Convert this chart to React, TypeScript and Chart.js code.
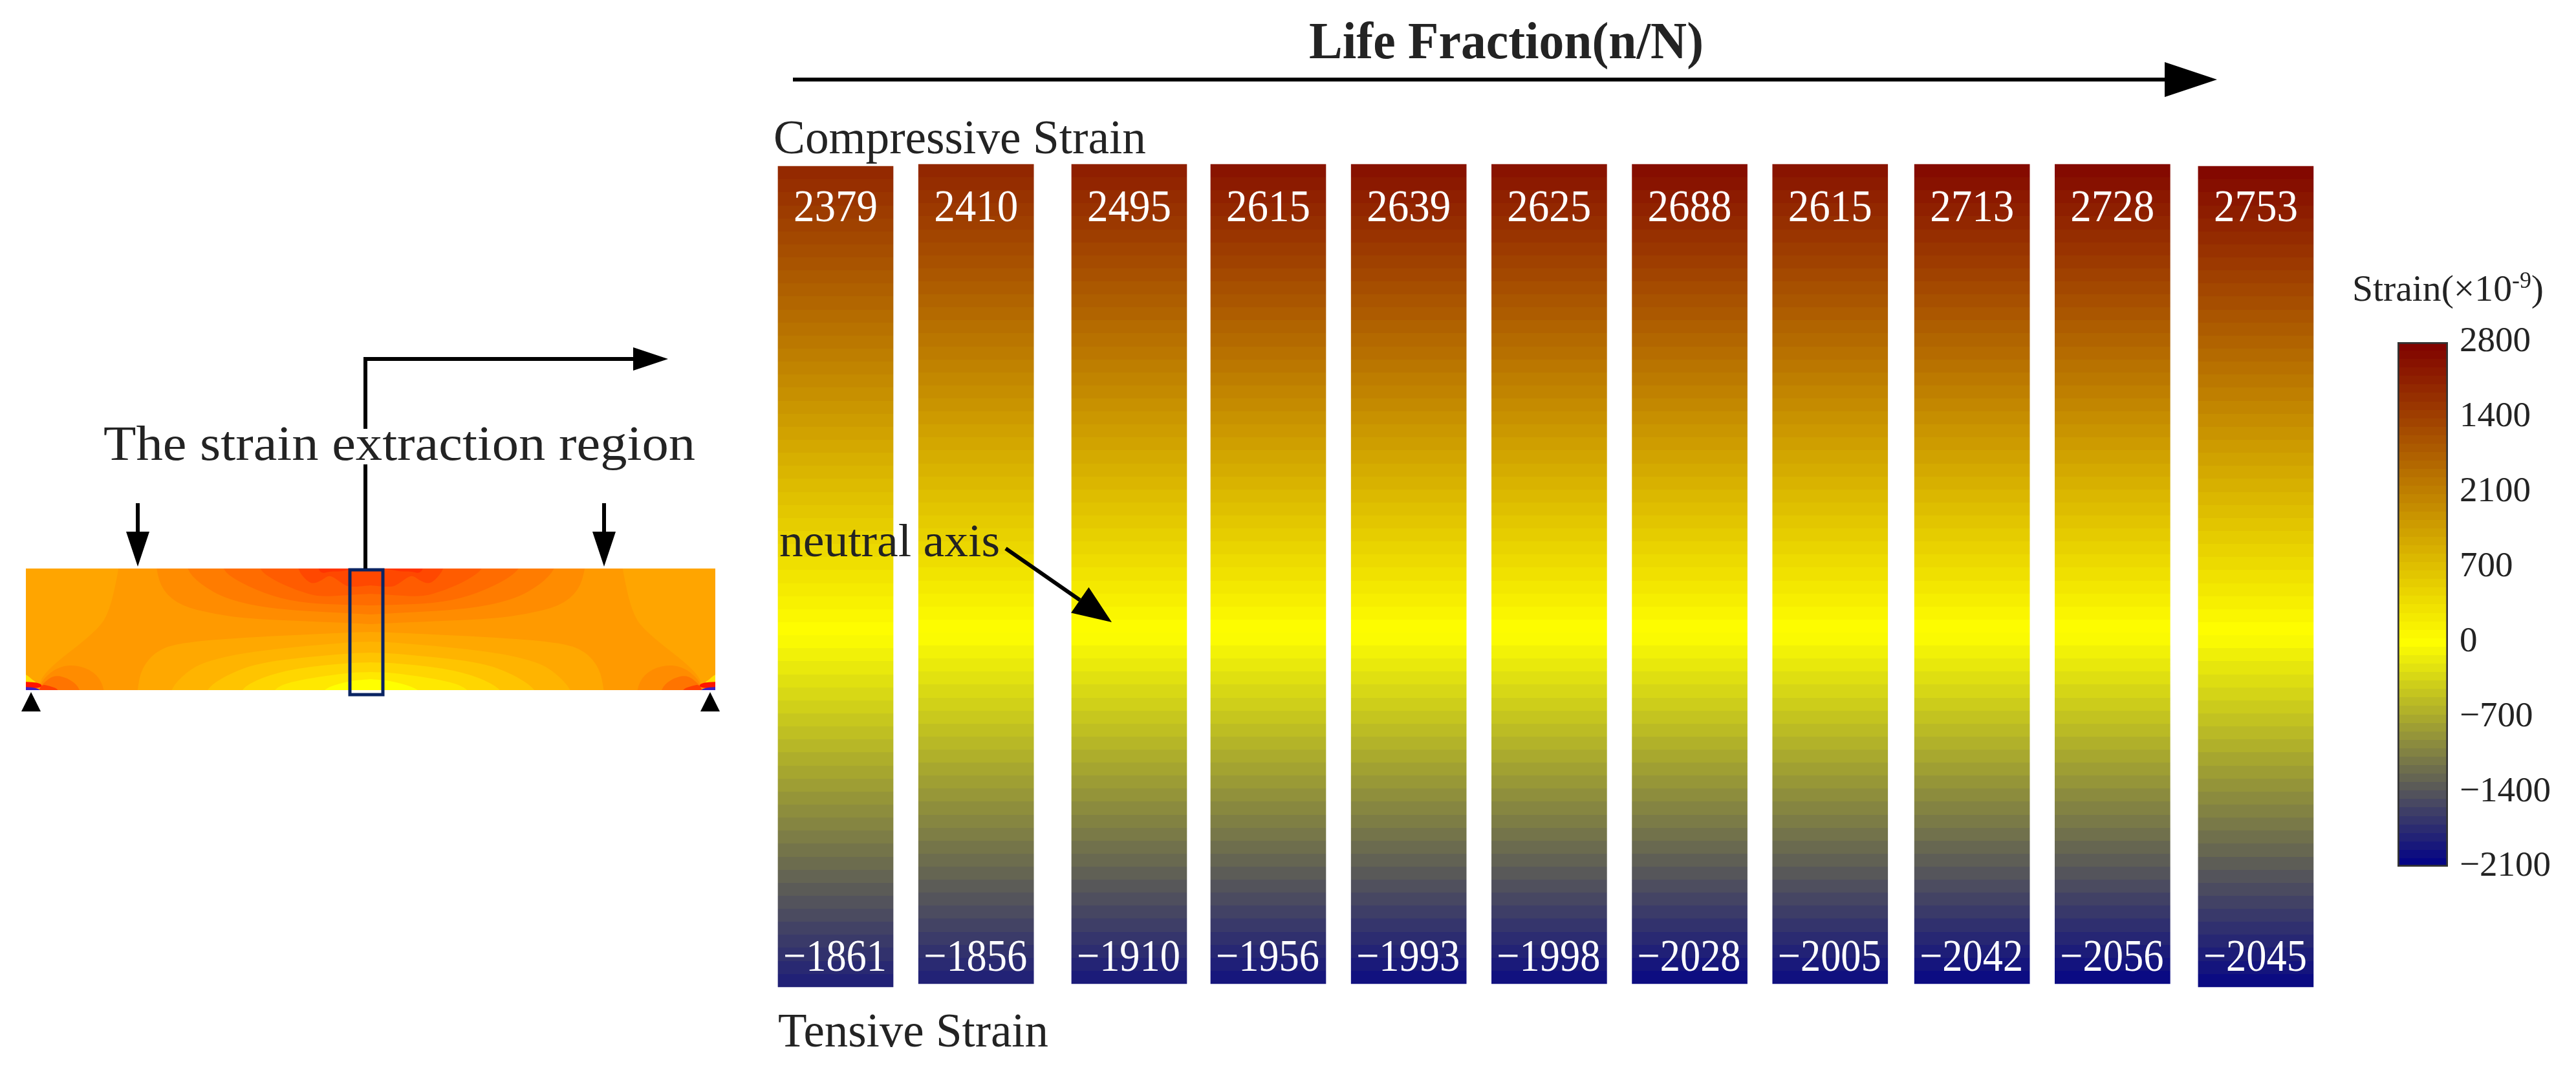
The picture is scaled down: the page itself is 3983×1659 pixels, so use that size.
import React, { useEffect, useRef } from "react";
import { Chart, registerables } from "chart.js";

Chart.register(...registerables);

// ---- data ----
const lifeFraction = [0, 0.1, 0.209, 0.308, 0.408, 0.508, 0.608, 0.708, 0.809, 0.909, 1.011];
const compressiveStrain = [2379, 2410, 2495, 2615, 2639, 2625, 2688, 2615, 2713, 2728, 2753];
const tensileStrain = [-1861, -1856, -1910, -1956, -1993, -1998, -2028, -2005, -2042, -2056, -2045];
const stripUpper = [2788, 2800, 2800, 2800, 2800, 2800, 2800, 2800, 2800, 2800, 2788];
const stripLower = [-2119, -2100, -2100, -2100, -2100, -2100, -2100, -2100, -2100, -2100, -2119];
const colorbarRange = [-2100, 2800];
const colorbarLabels = ["−2100", "−1400", "−700", "0", "700", "2100", "1400", "2800"];

const SERIF = '"Liberation Serif", serif';
const TEXT = "#232323";

type RGB = [number, number, number];
const HOT: RGB = [127, 0, 0];
const MID: RGB = [255, 255, 0];
const COLD: RGB = [0, 0, 136];

function mix(a: RGB, b: RGB, t: number): RGB {
  return [a[0] + (b[0] - a[0]) * t, a[1] + (b[1] - a[1]) * t, a[2] + (b[2] - a[2]) * t];
}
function strainColor(v: number): RGB {
  return v >= 0 ? mix(MID, HOT, Math.min(v / 2800, 1)) : mix(MID, COLD, Math.min(-v / 2100, 1));
}
const css = (c: RGB) => `rgb(${Math.round(c[0])},${Math.round(c[1])},${Math.round(c[2])})`;

// banded vertical gradient: hi colour at yTop, yellow at yZero, lo colour at yBottom
function bandedGradient(
  ctx: CanvasRenderingContext2D,
  yTop: number,
  yZero: number,
  yBottom: number,
  hi: number,
  lo: number,
  band: number
) {
  if (![yTop, yZero, yBottom].every(Number.isFinite)) return "#888888";
  const g = ctx.createLinearGradient(0, yTop, 0, yBottom);
  const h = yBottom - yTop;
  const n = Math.round(h / band);
  for (let i = 0; i < n; i++) {
    const a = i / n;
    const b = (i + 1) / n;
    const y = yTop + ((a + b) / 2) * h;
    const v = y < yZero ? (hi * (yZero - y)) / (yZero - yTop) : (lo * (y - yZero)) / (yBottom - yZero);
    const c = css(strainColor(v));
    g.addColorStop(a, c);
    g.addColorStop(b, c);
  }
  return g;
}

function fitText(
  ctx: CanvasRenderingContext2D,
  s: string,
  x: number,
  baseline: number,
  width: number,
  font: string,
  color = TEXT
) {
  ctx.save();
  ctx.font = font;
  ctx.fillStyle = color;
  ctx.textAlign = "left";
  ctx.textBaseline = "alphabetic";
  const w = ctx.measureText(s).width;
  ctx.translate(x, baseline);
  ctx.scale(width / w, 1);
  ctx.fillText(s, 0, 0);
  ctx.restore();
}

function segment(ctx: CanvasRenderingContext2D, x1: number, y1: number, x2: number, y2: number, w: number) {
  ctx.save();
  ctx.strokeStyle = "#000";
  ctx.lineWidth = w;
  ctx.beginPath();
  ctx.moveTo(x1, y1);
  ctx.lineTo(x2, y2);
  ctx.stroke();
  ctx.restore();
}

function arrow(
  ctx: CanvasRenderingContext2D,
  x1: number,
  y1: number,
  x2: number,
  y2: number,
  w: number,
  headLen: number,
  headHalf: number
) {
  const d = Math.hypot(x2 - x1, y2 - y1);
  const ux = (x2 - x1) / d;
  const uy = (y2 - y1) / d;
  const bx = x2 - ux * headLen;
  const by = y2 - uy * headLen;
  segment(ctx, x1, y1, bx, by, w);
  ctx.save();
  ctx.fillStyle = "#000";
  ctx.beginPath();
  ctx.moveTo(x2, y2);
  ctx.lineTo(bx - uy * headHalf, by + ux * headHalf);
  ctx.lineTo(bx + uy * headHalf, by - ux * headHalf);
  ctx.closePath();
  ctx.fill();
  ctx.restore();
}

// ---- schematic beam: left half of each contour, mirrored about the mid-span ----
type Pt = [number, number];
type Contour = { color: string; pts: Pt[] };
const MIRROR = 1146;

const spanContours: Contour[] = [
  { color: "#ff9a00", pts: [[30, 1085], [60, 1067], [66, 1040], [148, 977], [169, 947], [184, 879], [184, 860]] },
  { color: "#ff8c00", pts: [[241, 860], [241, 879], [251, 913], [280, 937], [334, 950], [387, 957], [537, 963], [573, 965]] },
  { color: "#ff7c00", pts: [[287, 860], [287, 879], [309, 903], [351, 927], [423, 942], [537, 948], [573, 950]] },
  { color: "#ff6c00", pts: [[341, 860], [341, 879], [369, 900], [423, 923], [476, 933], [537, 935], [573, 936]] },
  { color: "#ff5c00", pts: [[398, 860], [398, 879], [423, 897], [459, 913], [494, 923], [537, 920], [573, 918]] },
  { color: "#ff4800", pts: [[459, 860], [459, 879], [473, 897], [484, 903], [498, 897], [510, 888], [530, 903], [541, 908], [573, 905]] },
  { color: "#ff3400", pts: [[491, 860], [491, 879], [498, 887], [510, 883], [525, 884], [545, 880], [573, 879], [573, 860]] },
  { color: "#ffa800", pts: [[212, 1085], [212, 1067], [219, 1033], [241, 1007], [273, 995], [351, 987], [537, 978], [573, 977]] },
  { color: "#ffb400", pts: [[262, 1085], [262, 1067], [287, 1040], [316, 1023], [387, 1007], [537, 993], [573, 992]] },
  { color: "#ffc400", pts: [[316, 1085], [316, 1067], [351, 1043], [405, 1023], [537, 1010], [573, 1009]] },
  { color: "#ffd600", pts: [[369, 1085], [369, 1067], [405, 1047], [459, 1033], [537, 1025], [573, 1024]] },
  { color: "#ffe800", pts: [[419, 1085], [419, 1067], [451, 1053], [537, 1040], [573, 1039]] },
  { color: "#ffff00", pts: [[494, 1085], [494, 1067], [537, 1053], [573, 1050]] },
];
const cornerContours: Contour[] = [
  { color: "#ff8c00", pts: [[162, 1085], [162, 1067], [151, 1043], [123, 1028], [91, 1030], [66, 1050], [60, 1067], [60, 1085]] },
  { color: "#ff7400", pts: [[126, 1085], [126, 1067], [109, 1050], [84, 1043], [66, 1057], [60, 1067], [60, 1085]] },
  { color: "#ff4000", pts: [[94, 1085], [94, 1067], [76, 1060], [62, 1058], [58, 1085]] },
  { color: "#ffe000", pts: [[30, 1040], [40, 1042], [51, 1052], [58, 1056], [30, 1056]] },
  { color: "#ff1400", pts: [[30, 1054], [62, 1054], [66, 1064], [30, 1064]] },
  { color: "#4020c0", pts: [[30, 1062], [62, 1062], [62, 1075], [30, 1075]] },
];

function contourPath(ctx: CanvasRenderingContext2D, pts: Pt[], mirror: boolean) {
  const all: Pt[] = mirror ? [...pts, ...[...pts].reverse().map(([x, y]) => [MIRROR - x, y] as Pt)] : pts;
  ctx.beginPath();
  ctx.moveTo(all[0][0], all[0][1]);
  for (let i = 1; i < all.length - 1; i++) {
    const mx = (all[i][0] + all[i + 1][0]) / 2;
    const my = (all[i][1] + all[i + 1][1]) / 2;
    ctx.quadraticCurveTo(all[i][0], all[i][1], mx, my);
  }
  ctx.lineTo(all[all.length - 1][0], all[all.length - 1][1]);
  ctx.closePath();
}

function drawBeam(ctx: CanvasRenderingContext2D) {
  const L = 40;
  const R = 1106;
  const T = 879;
  const B = 1067;
  ctx.save();
  ctx.beginPath();
  ctx.rect(L, T, R - L, B - T);
  ctx.clip();
  ctx.fillStyle = "#ffa500";
  ctx.fillRect(L, T, R - L, B - T);
  spanContours.forEach(({ color, pts }) => {
    ctx.fillStyle = color;
    contourPath(ctx, pts, true);
    ctx.fill();
  });
  cornerContours.forEach(({ color, pts }) => {
    ctx.fillStyle = color;
    contourPath(ctx, pts, false);
    ctx.fill();
    contourPath(ctx, pts.map(([x, y]) => [MIRROR - x, y] as Pt), false);
    ctx.fill();
  });
  ctx.restore();

  // extraction window
  ctx.save();
  ctx.strokeStyle = "#0a2463";
  ctx.lineWidth = 5;
  ctx.strokeRect(541, 881, 51, 193);
  ctx.restore();

  // supports
  [48, 1098].forEach((x) => {
    ctx.fillStyle = "#000";
    ctx.beginPath();
    ctx.moveTo(x, 1070);
    ctx.lineTo(x + 15, 1100);
    ctx.lineTo(x - 15, 1100);
    ctx.closePath();
    ctx.fill();
  });
  // load arrows
  arrow(ctx, 213, 778, 213, 876, 6, 54, 18);
  arrow(ctx, 934, 778, 934, 876, 6, 54, 18);
  // section marker
  segment(ctx, 565, 879, 565, 718, 6);
  segment(ctx, 565, 663, 565, 552, 6);
  arrow(ctx, 562, 555, 1033, 555, 6, 54, 18);
  fitText(ctx, "The strain extraction region", 160, 711, 915, `76px ${SERIF}`);
}

const annotations = {
  id: "annotations",
  beforeDatasetsDraw(chart: any) {
    drawBeam(chart.ctx);
  },
  afterDatasetsDraw(chart: any) {
    const ctx: CanvasRenderingContext2D = chart.ctx;
    const yScale = chart.scales.y;
    const yTop = yScale.getPixelForValue(2800);
    const yBottom = yScale.getPixelForValue(-2100);
    chart.getDatasetMeta(0).data.forEach((bar: any, i: number) => {
      const hi = String(compressiveStrain[i]);
      const lo = "−" + String(-tensileStrain[i]);
      fitText(ctx, hi, bar.x - 65, yTop + 88, 130, `70px ${SERIF}`, "#ffffff");
      fitText(ctx, lo, bar.x - 81, yBottom - 20, 160, `70px ${SERIF}`, "#ffffff");
    });
    // headings
    fitText(ctx, "Life Fraction(n/N)", 2024, 90, 610, `bold 80px ${SERIF}`);
    arrow(ctx, 1226, 123, 3428, 123, 6, 81, 27);
    fitText(ctx, "Compressive Strain", 1196, 237, 576, `74px ${SERIF}`);
    fitText(ctx, "Tensive Strain", 1203, 1618, 418, `74px ${SERIF}`);
    fitText(ctx, "neutral axis", 1205, 860, 341, `72px ${SERIF}`);
    arrow(ctx, 1555, 848, 1719, 962, 6, 60, 24);
    // colour bar heading
    ctx.save();
    ctx.translate(3637, 465);
    ctx.font = `58px ${SERIF}`;
    ctx.fillStyle = TEXT;
    const a = "Strain(×10";
    const wa = ctx.measureText(a).width;
    ctx.font = `36px ${SERIF}`;
    const wb = ctx.measureText("-9").width;
    ctx.font = `58px ${SERIF}`;
    const wc = ctx.measureText(")").width;
    ctx.scale(296 / (wa + wb + wc), 1);
    ctx.fillText(a, 0, 0);
    ctx.fillText(")", wa + wb, 0);
    ctx.font = `36px ${SERIF}`;
    ctx.fillText("-9", wa, -20);
    ctx.restore();
  },
};

export default function App() {
  const mainRef = useRef<HTMLCanvasElement>(null);
  const barRef = useRef<HTMLCanvasElement>(null);

  useEffect(() => {
    document.body.style.margin = "0";
    const main = new Chart(mainRef.current as HTMLCanvasElement, {
      type: "bar",
      data: {
        datasets: [
          {
            label: "Strain",
            data: lifeFraction.map((x, i) => ({ x, y: [stripLower[i], stripUpper[i]] })) as any,
            barThickness: 178,
            borderWidth: 0,
            backgroundColor: (c: any) => {
              const y = c.chart.scales.y;
              if (!y) return "#888";
              const i = c.dataIndex;
              return bandedGradient(
                c.chart.ctx,
                y.getPixelForValue(stripUpper[i]),
                y.getPixelForValue(0),
                y.getPixelForValue(stripLower[i]),
                compressiveStrain[i],
                tensileStrain[i],
                20
              );
            },
          },
        ],
      },
      options: {
        animation: false,
        responsive: false,
        devicePixelRatio: 1,
        layout: { padding: 0 },
        plugins: { legend: { display: false }, tooltip: { enabled: false } },
        scales: {
          x: { type: "linear", display: false, offset: false, min: -0.59484, max: 1.23895 },
          y: { type: "linear", display: false, min: -2633.7, max: 3782.3 },
        },
      },
      plugins: [annotations],
    });

    const colorbar = new Chart(barRef.current as HTMLCanvasElement, {
      type: "bar",
      data: {
        labels: ["Strain"],
        datasets: [
          {
            data: [colorbarRange] as any,
            barPercentage: 1,
            categoryPercentage: 1,
            borderWidth: 3,
            borderColor: "#333333",
            borderSkipped: false,
            backgroundColor: (c: any) => {
              const y = c.chart.scales.y;
              if (!y) return "#888";
              return bandedGradient(
                c.chart.ctx,
                y.getPixelForValue(colorbarRange[1]),
                y.getPixelForValue(0),
                y.getPixelForValue(colorbarRange[0]),
                colorbarRange[1],
                colorbarRange[0],
                13
              );
            },
          },
        ],
      },
      options: {
        animation: false,
        responsive: false,
        devicePixelRatio: 1,
        layout: { padding: { left: 7, top: 29, bottom: 40, right: 0 } },
        plugins: { legend: { display: false }, tooltip: { enabled: false } },
        scales: {
          x: { display: false },
          y: {
            type: "linear",
            position: "right",
            min: colorbarRange[0],
            max: colorbarRange[1],
            grid: { display: false, drawTicks: false },
            border: { display: false },
            afterFit: (s: any) => {
              s.width = 198;
              s.paddingTop = 0;
              s.paddingBottom = 0;
            },
            ticks: {
              stepSize: 700,
              autoSkip: false,
              padding: 18,
              color: TEXT,
              font: { family: "Liberation Serif", size: 55 },
              callback: (_v: any, i: number) => colorbarLabels[i],
            },
          },
        },
      },
    });

    return () => {
      main.destroy();
      colorbar.destroy();
    };
  }, []);

  return (
    <div style={{ position: "relative", width: 3983, height: 1659, overflow: "hidden", background: "#fff" }}>
      <canvas ref={mainRef} width={3983} height={1659} style={{ position: "absolute", left: 0, top: 0 }} />
      <canvas ref={barRef} width={283} height={880} style={{ position: "absolute", left: 3700, top: 500 }} />
    </div>
  );
}
